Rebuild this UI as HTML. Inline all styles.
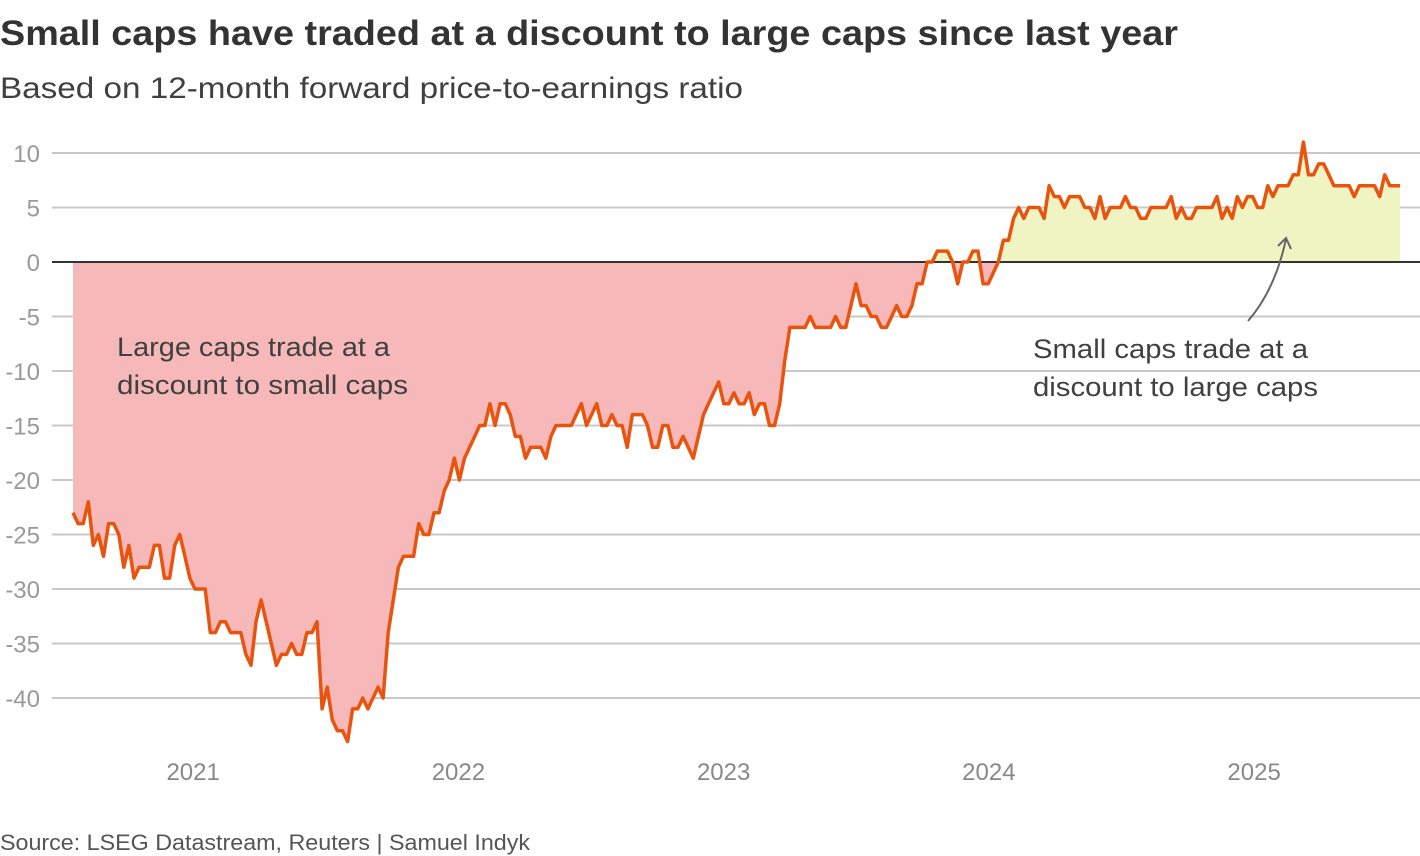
<!DOCTYPE html>
<html><head><meta charset="utf-8"><style>
html,body{margin:0;padding:0;background:#fff;}
svg{display:block;font-family:"Liberation Sans",sans-serif;}
</style></head><body>
<svg id="chart" width="1420" height="856" viewBox="0 0 1420 856">
<text x="0" y="45" font-size="35" font-weight="bold" fill="#333" textLength="1178" lengthAdjust="spacingAndGlyphs">Small caps have traded at a discount to large caps since last year</text>
<text x="0" y="98" font-size="30" fill="#404040" textLength="743" lengthAdjust="spacingAndGlyphs">Based on 12-month forward price-to-earnings ratio</text>
<g id="grid"></g>
<g id="areas"></g>
<g id="ann">
<text font-size="27" fill="#404040"><tspan x="117" y="356" textLength="273" lengthAdjust="spacingAndGlyphs">Large caps trade at a</tspan><tspan x="117" y="394" textLength="291" lengthAdjust="spacingAndGlyphs">discount to small caps</tspan></text>
<text font-size="27" fill="#404040"><tspan x="1033" y="358" textLength="275" lengthAdjust="spacingAndGlyphs">Small caps trade at a</tspan><tspan x="1033" y="396" textLength="285" lengthAdjust="spacingAndGlyphs">discount to large caps</tspan></text>
<path d="M1248,321 Q1275,290 1286,239" fill="none" stroke="#666" stroke-width="2"/>
<path d="M1278,246 L1286,238 L1291,249" fill="none" stroke="#666" stroke-width="2"/>
</g>
<text x="0" y="850" font-size="22" fill="#555" textLength="530" lengthAdjust="spacingAndGlyphs">Source: LSEG Datastream, Reuters | Samuel Indyk</text>
</svg>
<script>
const yTicks = [10,5,0,-5,-10,-15,-20,-25,-30,-35,-40];
const yearLabels = ["2021","2022","2023","2024","2025"];
const yearPositions = [2021,2022,2023,2024,2025];
const startYear = 2020.547;
const endYear = 2025.55;
const values = [-23,-24,-24,-22,-26,-25,-27,-24,-24,-25,-28,-26,-29,-28,-28,-28,-26,-26,-29,-29,-26,-25,-27,-29,-30,-30,-30,-34,-34,-33,-33,-34,-34,-34,-36,-37,-33,-31,-33,-35,-37,-36,-36,-35,-36,-36,-34,-34,-33,-41,-39,-42,-43,-43,-44,-41,-41,-40,-41,-40,-39,-40,-34,
-31,-28,-27,-27,-27,-24,-25,-25,-23,-23,-21,-20,-18,-20,-18,-17,-16,-15,-15,-13,-15,-13,-13,-14,-16,-16,-18,-17,-17,-17,-18,-16,-15,-15,-15,-15,-14,-13,-15,-14,-13,-15,-15,-14,-15,-15,-17,-14,-14,-14,-15,-17,-17,-15,-15,-17,-17,-16,-17,-18,-16,-14,-13,-12,
-11,-13,-13,-12,-13,-13,-12,-14,-13,-13,-15,-15,-13,-9,-6,-6,-6,-6,-5,-6,-6,-6,-6,-5,-6,-6,-4,-2,-4,-4,-5,-5,-6,-6,-5,-4,-5,-5,-4,-2,-2,0,0,1,1,1,0,-2,0,0,1,1,-2,-2,-1,0,
2,2,4,5,4,5,5,5,4,7,6,6,5,6,6,6,5,5,4,6,4,5,5,5,6,5,5,4,4,5,5,5,5,6,4,5,4,4,5,5,5,5,6,4,5,4,6,5,6,6,5,5,7,6,7,7,7,8,8,11,8,8,9,9,8,7,7,7,7,6,7,7,7,7,6,8,7,7,7];

const NS="http://www.w3.org/2000/svg";
const X0=73, X1=1400;
function yScale(v){return 262-10.9*v;}
function yearX(yr){return X0+(yr-startYear)/(endYear-startYear)*(X1-X0);}
function idxX(i){return X0+i*(X1-X0)/(values.length-1);}
const svg=document.getElementById('chart');
const grid=document.getElementById('grid');
yTicks.forEach(t=>{
  const l=document.createElementNS(NS,'line');
  l.setAttribute('x1',52);l.setAttribute('x2',1420);
  l.setAttribute('y1',yScale(t));l.setAttribute('y2',yScale(t));
  l.setAttribute('stroke','#c8c8c8');l.setAttribute('stroke-width',2);
  
  
  grid.appendChild(l);
  const tx=document.createElementNS(NS,'text');
  tx.setAttribute('x',40);tx.setAttribute('y',yScale(t)+9);
  tx.setAttribute('text-anchor','end');tx.setAttribute('font-size',24);tx.setAttribute('fill','#999');
  tx.textContent=t;
  
  
  grid.appendChild(tx);
});
yearLabels.forEach((lab,i)=>{
  const tx=document.createElementNS(NS,'text');
  tx.setAttribute('x',yearX(yearPositions[i]));tx.setAttribute('y',780);
  tx.setAttribute('text-anchor','middle');tx.setAttribute('font-size',24);tx.setAttribute('fill','#888');
  tx.textContent=lab;
  
  
  grid.appendChild(tx);
});
const areas=document.getElementById('areas');
let pts=values.map((v,i)=>idxX(i).toFixed(1)+','+yScale(v).toFixed(1));
const areaD='M'+X0+','+yScale(0)+' L'+pts.join(' L')+' L'+X1+','+yScale(0)+' Z';
const defs=document.createElementNS(NS,'defs');
defs.innerHTML='<clipPath id="cAbove"><rect x="0" y="0" width="1420" height="'+yScale(0)+'"/></clipPath><clipPath id="cBelow"><rect x="0" y="'+yScale(0)+'" width="1420" height="600"/></clipPath>';
svg.insertBefore(defs,svg.firstChild);
const neg=document.createElementNS(NS,'path');
neg.setAttribute('d',areaD);neg.setAttribute('fill','#f7b8b9');neg.setAttribute('clip-path','url(#cBelow)');


areas.appendChild(neg);
const pos=document.createElementNS(NS,'path');
pos.setAttribute('d',areaD);pos.setAttribute('fill','#f0f4c3');pos.setAttribute('clip-path','url(#cAbove)');


areas.appendChild(pos);
const zl=document.createElementNS(NS,'line');
zl.setAttribute('x1',52);zl.setAttribute('x2',1420);zl.setAttribute('y1',yScale(0));zl.setAttribute('y2',yScale(0));
zl.setAttribute('stroke','#333');zl.setAttribute('stroke-width',2);


areas.appendChild(zl);
const line=document.createElementNS(NS,'polyline');
line.setAttribute('points',pts.join(' '));
line.setAttribute('fill','none');line.setAttribute('stroke','#e8540e');line.setAttribute('stroke-width',3.5);line.setAttribute('stroke-linejoin','round');


areas.appendChild(line);
</script>
</body></html>
